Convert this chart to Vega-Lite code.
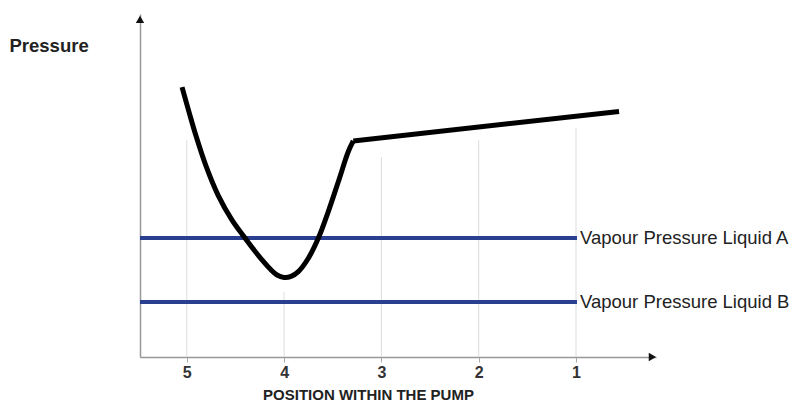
{
  "$schema": "https://vega.github.io/schema/vega-lite/v6.json",
  "width": 516,
  "height": 343,
  "autosize": {"type": "none"},
  "padding": {"left": 140, "top": 14, "right": 136, "bottom": 46},
  "background": "white",
  "config": {"view": {"stroke": null}, "font": "Liberation Sans"},
  "datasets": {
    "grid": [
      {"pos": 5, "top": 63.3},
      {"pos": 4, "top": 19.0},
      {"pos": 3, "top": 58.3},
      {"pos": 2, "top": 63.3},
      {"pos": 1, "top": 66.8}
    ],
    "curve": [
      {"seq": 1, "pos": 5.049, "pressure": 78.7},
      {"seq": 2, "pos": 4.977, "pressure": 71.4},
      {"seq": 3, "pos": 4.905, "pressure": 64.4},
      {"seq": 4, "pos": 4.803, "pressure": 55.7},
      {"seq": 5, "pos": 4.679, "pressure": 47.2},
      {"seq": 6, "pos": 4.535, "pressure": 39.9},
      {"seq": 7, "pos": 4.402, "pressure": 34.7},
      {"seq": 8, "pos": 4.309, "pressure": 31.2},
      {"seq": 9, "pos": 4.227, "pressure": 28.3},
      {"seq": 10, "pos": 4.145, "pressure": 25.7},
      {"seq": 11, "pos": 4.073, "pressure": 23.9},
      {"seq": 12, "pos": 4.001, "pressure": 23.2},
      {"seq": 13, "pos": 3.929, "pressure": 23.5},
      {"seq": 14, "pos": 3.854, "pressure": 24.9},
      {"seq": 15, "pos": 3.751, "pressure": 28.8},
      {"seq": 16, "pos": 3.649, "pressure": 34.6},
      {"seq": 17, "pos": 3.546, "pressure": 42.4},
      {"seq": 18, "pos": 3.443, "pressure": 51.1},
      {"seq": 19, "pos": 3.340, "pressure": 59.9},
      {"seq": 20, "pos": 3.289, "pressure": 63.0}
    ],
    "flat": [
      {"seq": 1, "pos": 3.289, "pressure": 63.0},
      {"seq": 2, "pos": 0.558, "pressure": 71.6}
    ],
    "vapour": [
      {"liquid": "Vapour Pressure Liquid A", "start": 5.481, "end": 0.990, "pressure": 34.7},
      {"liquid": "Vapour Pressure Liquid B", "start": 5.481, "end": 0.990, "pressure": 16.0}
    ],
    "arrows": [
      {"pos": 5.481, "pressure": 98.4, "shape": "triangle-up"},
      {"pos": 0.215, "pressure": 0, "shape": "triangle-right"}
    ]
  },
  "layer": [
    {
      "data": {"name": "grid"},
      "mark": {"type": "rule", "color": "#dcdcdc", "strokeWidth": 1},
      "encoding": {
        "x": {"field": "pos", "type": "quantitative",
          "scale": {"domain": [0.178, 5.481], "reverse": true, "nice": false, "zero": false},
          "axis": {
            "values": [5, 4, 3, 2, 1],
            "format": "d",
            "title": "POSITION WITHIN THE PUMP",
            "titleFont": "Liberation Sans",
            "titleFontSize": 15,
            "titleFontWeight": "bold",
            "titleColor": "#222",
            "titleX": 228,
            "titlePadding": 7,
            "labelFont": "Liberation Sans",
            "labelFontSize": 16,
            "labelFontWeight": "bold",
            "labelColor": "#333",
            "labelPadding": 2,
            "tickColor": "#aaa",
            "tickSize": 5,
            "domainColor": "#999",
            "domainWidth": 1.5,
            "grid": false
          }
        },
        "y": {"field": "top", "type": "quantitative",
          "scale": {"domain": [0, 100], "nice": false},
          "axis": {
            "title": "Pressure",
            "titleAngle": 0,
            "titleAlign": "left",
            "titleBaseline": "middle",
            "titleX": -131,
            "titleY": 31,
            "titleFont": "Liberation Sans",
            "titleFontSize": 18.5,
            "titleFontWeight": "bold",
            "titleColor": "#222",
            "labels": false,
            "ticks": false,
            "grid": false,
            "domainColor": "#999",
            "domainWidth": 1.5
          }
        },
        "y2": {"datum": 0}
      }
    },
    {
      "data": {"name": "vapour"},
      "mark": {"type": "rule", "color": "#2a3f8f", "strokeWidth": 4},
      "encoding": {
        "x": {"field": "start", "type": "quantitative", "title": "POSITION WITHIN THE PUMP"},
        "x2": {"field": "end"},
        "y": {"field": "pressure", "type": "quantitative", "title": "Pressure"}
      }
    },
    {
      "data": {"name": "curve"},
      "mark": {"type": "line", "color": "#000", "strokeWidth": 5, "interpolate": "catmull-rom", "strokeJoin": "round"},
      "encoding": {
        "x": {"field": "pos", "type": "quantitative", "title": "POSITION WITHIN THE PUMP"},
        "y": {"field": "pressure", "type": "quantitative", "title": "Pressure"},
        "order": {"field": "seq"}
      }
    },
    {
      "data": {"name": "flat"},
      "mark": {"type": "line", "color": "#000", "strokeWidth": 5, "strokeJoin": "round"},
      "encoding": {
        "x": {"field": "pos", "type": "quantitative", "title": "POSITION WITHIN THE PUMP"},
        "y": {"field": "pressure", "type": "quantitative", "title": "Pressure"},
        "order": {"field": "seq"}
      }
    },
    {
      "data": {"name": "vapour"},
      "mark": {"type": "text", "align": "left", "baseline": "middle", "dx": 3, "fontSize": 18.5, "font": "Liberation Sans", "color": "#222"},
      "encoding": {
        "x": {"field": "end", "type": "quantitative", "title": "POSITION WITHIN THE PUMP"},
        "y": {"field": "pressure", "type": "quantitative", "title": "Pressure"},
        "text": {"field": "liquid"}
      }
    },
    {
      "data": {"name": "arrows"},
      "mark": {"type": "point", "filled": true, "color": "#111", "size": 70, "opacity": 1},
      "encoding": {
        "x": {"field": "pos", "type": "quantitative", "title": "POSITION WITHIN THE PUMP"},
        "y": {"field": "pressure", "type": "quantitative", "title": "Pressure"},
        "shape": {"field": "shape", "type": "nominal", "scale": null, "legend": null}
      }
    }
  ]
}
